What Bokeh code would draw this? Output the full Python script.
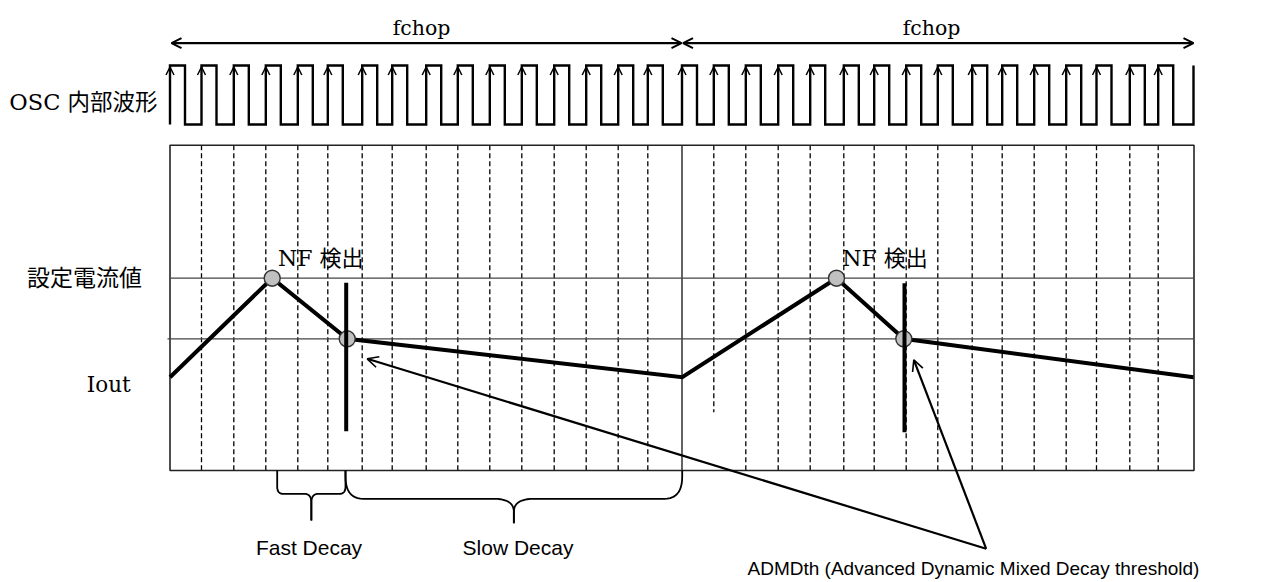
import numpy as np
from bokeh.plotting import figure
from bokeh.models import Range1d, Arrow, OpenHead, ColumnDataSource
from bokeh.core.properties import value
from bokeh.embed import file_html
from bokeh.resources import INLINE

# ---------------- diagram data (page pixels) ----------------
# chopping period grid (dashed lines) and the mid solid divider
grid_dashed_x = [201, 233.3, 265.3, 297.3, 327.3, 361.7, 391.7, 425.7, 457.3, 489.3,
                 521.3, 553.7, 585.7, 617.7, 647.3,
                 713.3, 745.3, 777.7, 809.7, 843.3, 873.7, 905.7, 937.3, 971.7, 1001.7,
                 1033.7, 1065.7, 1096, 1129.3, 1157.7]
grid_dashed_bottom = [470] * 15 + [411.7] + [470] * 14
box_x = [169.5, 1193.5]
box_y = [144.7, 470]
period_divider_x = 681.5

# OSC internal waveform: rising edges
osc_rise_x = [169.5] + grid_dashed_x[:15] + [681.5] + grid_dashed_x[15:]
osc_last_x = 1193
osc_high_len = 15
osc_levels = [65, 124]          # high, low

# fchop spans
fchop_spans = [(171, 681), (682.5, 1193)]
fchop_label_x = [421, 931]

# reference levels: set current, ADMD threshold
level_set_y = 277.7
level_admd_y = 338.3

# Iout waveform
iout_x = [169.5, 271.7, 346.7, 681.7, 836, 903.3, 1193]
iout_y = [376.7, 277.7, 338.3, 376.7, 277.7, 338.3, 376.7]
# detection points
det_x = [271.7, 346.7, 836, 903.3]
det_y = [277.7, 338.3, 277.7, 338.3]
# ADMDth markers
admd_bar_x = [345.7, 904]
admd_bar_y0 = [282.3, 282.7]
admd_bar_y1 = [430.7, 431.7]
admd_apex = (985.7, 548.3)
admd_tips_x = [366.7, 913.3]
admd_tips_y = [358.3, 359.3]

# braces
brace_fast = (276.7, 345.0)
brace_slow = (345.0, 681.7)

# --------------------------------------------------------------------------------------
W, H = 1264, 581
p = figure(width=W, height=H, x_range=Range1d(0, W), y_range=Range1d(H, 0),
           output_backend="svg", toolbar_location=None, min_border=0,
           x_axis_location=None, y_axis_location=None)
p.grid.visible = False
p.outline_line_color = None
p.background_fill_color = "white"
p.border_fill_color = "white"

SERIF = value("DejaVu Serif, Noto Sans CJK JP")
CJK = value("Noto Sans CJK JP")
SANS = value("Liberation Sans")

# dashed grid
p.segment(x0=grid_dashed_x, y0=[box_y[0]] * len(grid_dashed_x), x1=grid_dashed_x,
          y1=grid_dashed_bottom, line_color="black", line_width=1.3, line_dash="5 3")

# box + divider
p.quad(left=box_x[0], right=box_x[1], top=box_y[0], bottom=box_y[1],
       fill_color=None, line_color="#222222", line_width=1.6)
p.segment(x0=[period_divider_x], y0=[box_y[0]], x1=[period_divider_x], y1=[box_y[1]],
          line_color="#222222", line_width=1.4)

# level lines
p.segment(x0=[box_x[0], 167], y0=[level_set_y, level_admd_y], x1=[box_x[1], box_x[1]],
          y1=[level_set_y, level_admd_y], line_color="#444444", line_width=1.3)

# OSC waveform
hi, lo = osc_levels
wx, wy = [], []
for r in osc_rise_x:
    wx += [r, r, r + osc_high_len, r + osc_high_len]
    wy += [lo, hi, hi, lo]
wx += [osc_last_x, osc_last_x]
wy += [lo, hi]
p.line(wx, wy, line_color="black", line_width=2.4, line_join="miter")
n = len(osc_rise_x)
osc_src = ColumnDataSource(dict(x0=osc_rise_x, y0=[90] * n, x1=osc_rise_x, y1=[hi + 1.5] * n))
p.add_layout(Arrow(end=OpenHead(size=8, line_width=1.5, line_color="black"),
                   x_start="x0", y_start="y0", x_end="x1", y_end="y1",
                   source=osc_src, line_alpha=0))

# fchop arrows
for (a, b) in fchop_spans:
    p.add_layout(Arrow(start=OpenHead(size=10, line_width=2), end=OpenHead(size=10, line_width=2),
                       x_start=a, y_start=42.7, x_end=b, y_end=42.7, line_width=2.2))

# Iout
p.line(iout_x, iout_y, line_color="black", line_width=4, line_join="miter")
p.scatter(det_x, det_y, size=16, fill_color="#c0c0c0", line_color="#333333", line_width=1.4)
p.segment(x0=admd_bar_x, y0=admd_bar_y0, x1=admd_bar_x, y1=admd_bar_y1,
          line_color="black", line_width=4)

# ADMDth pointer arrows
for tx, ty in zip(admd_tips_x, admd_tips_y):
    p.add_layout(Arrow(end=OpenHead(size=11, line_width=1.6),
                       x_start=admd_apex[0], y_start=admd_apex[1], x_end=tx, y_end=ty,
                       line_width=2.2))


# braces
def quad_pts(p0, c, p1, k=12):
    t = np.linspace(0, 1, k)
    x = (1 - t) ** 2 * p0[0] + 2 * (1 - t) * t * c[0] + t ** 2 * p1[0]
    y = (1 - t) ** 2 * p0[1] + 2 * (1 - t) * t * c[1] + t ** 2 * p1[1]
    return list(x), list(y)


def brace(x0, x1, ytop, ymid, ytip, rh, rv, mh, mv):
    xm = (x0 + x1) / 2
    paths = []
    for s, xe in ((1, x0), (-1, x1)):
        xs, ys = [xe], [ytop]
        cx, cy = quad_pts((xe, ymid - rv), (xe, ymid), (xe + s * rh, ymid))
        xs += cx; ys += cy
        cx, cy = quad_pts((xm - s * mh, ymid), (xm, ymid), (xm, ymid + mv))
        xs += cx; ys += cy
        xs.append(xm); ys.append(ytip)
        paths.append((xs, ys))
    return paths


bx, by = [], []
for path in brace(brace_fast[0], brace_fast[1], 470, 493.3, 520, 6, 7, 7, 9) + \
        brace(brace_slow[0], brace_slow[1], 470, 498.3, 522.7, 18, 22, 20, 13):
    bx.append(path[0]); by.append(path[1])
p.multi_line(bx, by, line_color="black", line_width=1.8)

# texts
p.text(x=fchop_label_x, y=[27.7, 27.7], text=["fchop", "fchop"], text_font=SERIF,
       text_font_size="20.5px", text_align="center", text_baseline="alphabetic", text_color="black")
p.text(x=[157], y=[101.7], text=["OSC 内部波形"], text_font=SERIF, text_font_size="22.5px",
       text_align="right", text_baseline="alphabetic", text_color="black")
p.text(x=[84], y=[275], text=["設定電流値"], text_font=CJK, text_font_size="23px",
       text_align="center", text_baseline="middle", text_color="black")
p.text(x=[108.3], y=[384], text=["Iout"], text_font=SERIF, text_font_size="21.5px",
       text_align="center", text_baseline="alphabetic", text_color="black")
p.text(x=[320.3, 884.5], y=[258.3, 258.3], text=["NF 検出", "NF 検出"], text_font=SERIF,
       text_font_size="22px", text_align="center", text_baseline="alphabetic", text_color="black")
p.text(x=[308.5, 517.5], y=[547, 547], text=["Fast Decay", "Slow Decay"], text_font=SANS,
       text_font_size="21px", text_align="center", text_baseline="alphabetic", text_color="black")
p.text(x=[747], y=[567.5], text=["ADMDth (Advanced Dynamic Mixed Decay threshold)"],
       text_font=SANS, text_font_size="19px", text_align="left", text_baseline="alphabetic",
       text_color="black")

open("out.html", "w").write(file_html(p, INLINE))
